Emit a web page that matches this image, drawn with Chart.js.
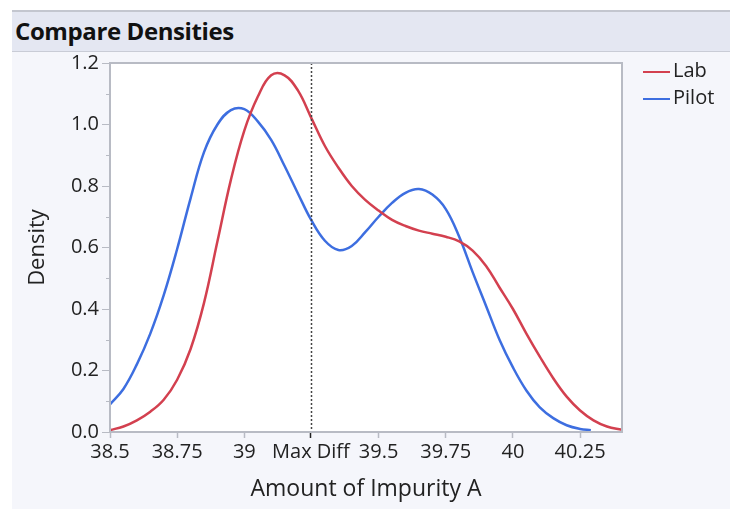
<!DOCTYPE html>
<html>
<head>
<meta charset="utf-8">
<title>Compare Densities</title>
<script src="https://cdn.jsdelivr.net/npm/chart.js@4/dist/chart.umd.min.js"></script>
<style>
    html, body { margin: 0; padding: 0; background: #ffffff; }
    body { width: 730px; height: 509px; position: relative; overflow: hidden;
           font-family: 'Open Sans', 'Noto Sans', sans-serif; }
    #panel { position: absolute; left: 12px; top: 10px; right: 0; bottom: 0; background: #f5f6fb; }
    #header { position: absolute; left: 12px; top: 10px; right: 0; height: 39px;
              background: #e4e7f2; border-top: 2px solid #c3c6cf; border-bottom: 1px solid #c9ccd6; }
    #header span { position: absolute; left: 3px; top: 4px; font-size: 24px; font-weight: 700;
                   color: #111; letter-spacing: -0.4px; line-height: 30px; }
    #chart { position: absolute; left: 0; top: 0; }
    #legend { position: absolute; left: 643px; top: 56px; font-size: 20px; color: #222; }
    #legend div { height: 27px; line-height: 27px; white-space: nowrap; }
    #legend i { display: inline-block; width: 27px; height: 0; border-top: 2.5px solid; vertical-align: middle; margin-right: 3px; }
</style>
</head>
<body>
<div id="panel"></div>
<div id="header"><span>Compare Densities</span></div>
<canvas id="chart" width="730" height="509"></canvas>
<div id="legend"></div>
<script>
// Kernel density estimates, Amount of Impurity A
const labX = [38.5, 38.55, 38.6, 38.65, 38.7, 38.75, 38.8, 38.85, 38.9, 38.95, 39.0, 39.05, 39.1,
    39.15, 39.2, 39.25, 39.3, 39.35, 39.4, 39.45, 39.5, 39.55, 39.6, 39.65, 39.7, 39.75, 39.8, 39.85,
    39.9, 39.95, 40.0, 40.05, 40.1, 40.15, 40.2, 40.25, 40.3, 40.35, 40.406];
const labY = [0.006, 0.018, 0.038, 0.066, 0.105, 0.17, 0.27, 0.42, 0.62, 0.82, 0.98, 1.09, 1.16,
    1.16, 1.11, 1.02, 0.93, 0.86, 0.80, 0.755, 0.72, 0.69, 0.67, 0.655, 0.645, 0.635, 0.62, 0.59,
    0.54, 0.47, 0.40, 0.32, 0.245, 0.175, 0.115, 0.07, 0.038, 0.018, 0.007];

const pilotX = [38.5, 38.55, 38.6, 38.65, 38.7, 38.75, 38.8, 38.85, 38.9, 38.95, 39.0, 39.05,
    39.1, 39.15, 39.2, 39.25, 39.3, 39.35, 39.4, 39.45, 39.5, 39.55, 39.6, 39.65, 39.7, 39.75, 39.8,
    39.85, 39.9, 39.95, 40.0, 40.05, 40.1, 40.15, 40.2, 40.25, 40.29];
const pilotY = [0.09, 0.14, 0.22, 0.32, 0.445, 0.595, 0.76, 0.91, 1.0, 1.047, 1.05, 1.01,
    0.95, 0.865, 0.775, 0.688, 0.622, 0.592, 0.605, 0.65, 0.70, 0.745, 0.778, 0.79, 0.772, 0.725, 0.635,
    0.52, 0.41, 0.30, 0.21, 0.135, 0.08, 0.045, 0.022, 0.01, 0.006];

const seriesNames = ['Lab', 'Pilot'];
const seriesColors = ['#d3404f', '#3d6ee0'];

const maxDiff = 39.248;
const xTickValues = [38.5, 38.75, 39, maxDiff, 39.5, 39.75, 40, 40.25];
const xTickLabels = ['38.5', '38.75', '39', 'Max Diff', '39.5', '39.75', '40', '40.25'];
const yMinorTicks = [0.1, 0.3, 0.5, 0.7, 0.9, 1.1];

const AXIS_GRAY = '#b8bbc4';
const FONT = "'Open Sans', 'Noto Sans', sans-serif";

function toPoints(xs, ys) {
    return xs.map((x, i) => ({ x: x, y: ys[i] }));
}

// White plot background, frame, minor y ticks and the Max Diff marker
const plotDecor = {
    id: 'plotDecor',
    beforeDraw(chart) {
        const { ctx, chartArea: a } = chart;
        ctx.save();
        ctx.fillStyle = '#ffffff';
        ctx.fillRect(a.left, a.top, a.right - a.left, a.bottom - a.top);
        ctx.restore();
    },
    afterDatasetsDraw(chart) {
        const { ctx, chartArea: a, scales } = chart;
        ctx.save();
        // dotted line at the largest difference
        const xp = Math.round(scales.x.getPixelForValue(maxDiff)) + 0.5;
        ctx.strokeStyle = '#444';
        ctx.lineWidth = 1.5;
        ctx.setLineDash([2, 2]);
        ctx.beginPath();
        ctx.moveTo(xp, a.top);
        ctx.lineTo(xp, a.bottom);
        ctx.stroke();
        ctx.setLineDash([]);
        // frame
        ctx.strokeStyle = AXIS_GRAY;
        ctx.lineWidth = 2;
        ctx.strokeRect(a.left, a.top, a.right - a.left, a.bottom - a.top);
        // minor ticks on the density axis
        ctx.lineWidth = 1;
        yMinorTicks.forEach(v => {
            const yp = Math.round(scales.y.getPixelForValue(v)) + 0.5;
            ctx.beginPath();
            ctx.moveTo(a.left - 4, yp);
            ctx.lineTo(a.left, yp);
            ctx.stroke();
        });
        ctx.restore();
    }
};

const chart = new Chart(document.getElementById('chart'), {
    type: 'line',
    data: {
        datasets: [
            { label: seriesNames[0], data: toPoints(labX, labY), borderColor: seriesColors[0] },
            { label: seriesNames[1], data: toPoints(pilotX, pilotY), borderColor: seriesColors[1] }
        ]
    },
    options: {
        responsive: false,
        animation: false,
        layout: { padding: { top: 63, right: 108, left: 21, bottom: 2 } },
        elements: {
            point: { radius: 0 },
            line: { borderWidth: 2.5, tension: 0.4, fill: false }
        },
        plugins: {
            legend: { display: false },
            tooltip: { enabled: false }
        },
        scales: {
            x: {
                type: 'linear',
                min: 38.5,
                max: 40.406,
                afterBuildTicks(scale) {
                    scale.ticks = xTickValues.map(v => ({ value: v }));
                },
                afterFit(scale) { scale.height = 75; },
                ticks: {
                    autoSkip: false,
                    maxRotation: 0,
                    padding: 2,
                    color: '#222',
                    font: { family: FONT, size: 20 },
                    callback: (value, i) => xTickLabels[i]
                },
                grid: {
                    drawOnChartArea: false,
                    tickLength: 6,
                    tickWidth: 1.5,
                    tickColor: ctx => (ctx.tick && ctx.tick.value === maxDiff ? '#222' : AXIS_GRAY)
                },
                border: { color: AXIS_GRAY, width: 2 },
                title: {
                    display: true,
                    text: 'Amount of Impurity A',
                    color: '#222',
                    font: { family: FONT, size: 23 },
                    padding: { top: 4, bottom: 4 }
                }
            },
            y: {
                min: 0,
                max: 1.2,
                afterFit(scale) { scale.width = 89; },
                ticks: {
                    stepSize: 0.2,
                    padding: 3,
                    color: '#222',
                    font: { family: FONT, size: 20 },
                    callback: v => v.toFixed(1)
                },
                grid: { drawOnChartArea: false, tickLength: 8, tickColor: AXIS_GRAY },
                border: { color: AXIS_GRAY, width: 2 },
                title: {
                    display: true,
                    text: 'Density',
                    color: '#222',
                    font: { family: FONT, size: 22 },
                    padding: { top: 4, bottom: 4 }
                }
            }
        }
    },
    plugins: [plotDecor]
});

// Legend built from the dataset labels and colours
const legendEl = document.getElementById('legend');
chart.data.datasets.forEach(ds => {
    const row = document.createElement('div');
    const swatch = document.createElement('i');
    swatch.style.borderColor = ds.borderColor;
    row.appendChild(swatch);
    row.appendChild(document.createTextNode(ds.label));
    legendEl.appendChild(row);
});
</script>
</body>
</html>
